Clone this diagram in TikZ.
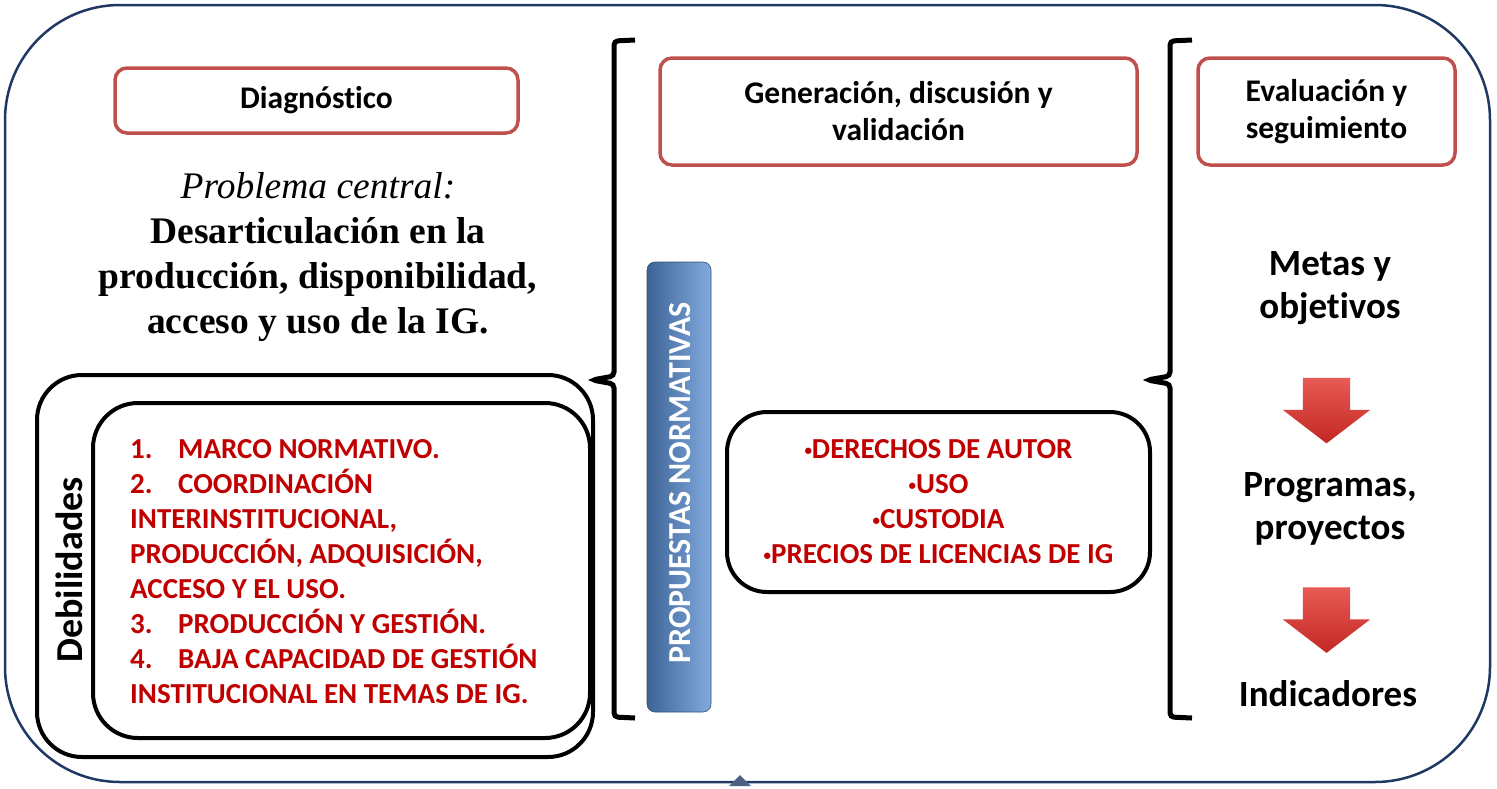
\documentclass[tikz,border=0pt]{standalone}
\usepackage{fontspec}
\setmainfont{Carlito}[Ligatures=NoCommon]
\newfontfamily\timesbf{Liberation Serif}
\usetikzlibrary{shapes.arrows}
\definecolor{framenavy}{RGB}{31,56,100}
\definecolor{headred}{RGB}{192,80,77}
\definecolor{listred}{RGB}{192,0,0}
\definecolor{bardark}{RGB}{62,100,150}
\definecolor{barmid}{RGB}{72,115,170}
\definecolor{barlight}{RGB}{130,170,222}
\definecolor{arrowlight}{RGB}{232,90,85}
\definecolor{arrowdark}{RGB}{195,40,35}
\newcommand{\smallbullet}{\raisebox{0.12em}{\fontsize{15}{15}\selectfont•}}
\tikzstyle{frame}=[draw=framenavy,line width=2.5,rounded corners=115]
\tikzstyle{head}=[draw=headred,line width=3.5,rounded corners=12,align=center,font=\bfseries\fontsize{31.5}{37}\selectfont]
\tikzstyle{blackbox}=[draw=black,line width=4,rounded corners=45]
\tikzstyle{brace}=[line width=5,rounded corners=4]
\tikzstyle{redlist}=[text=listred,align=left,inner sep=0,font=\bfseries\fontsize{29}{35}\selectfont]
\tikzstyle{stage}=[align=center,font=\bfseries\fontsize{37}{43}\selectfont]
\tikzstyle{downarrow}=[single arrow,rotate=-90,minimum height=65,inner sep=23.5,
  single arrow head extend=20,single arrow tip angle=105,
  top color=arrowlight,bottom color=arrowdark]
\tikzset{every picture/.style={x=1pt,y=-1pt}}
\begin{document}
\begin{tikzpicture}
      \useasboundingbox (0,0) rectangle (1497,788);
      \draw[frame] (5,5) rectangle (1490,782);
      \fill[framenavy!80] (729,786) -- (740,775) -- (751,786) -- cycle;
      % diagnostico
      \node[head,minimum width=403,minimum height=65] at (316.5,100.5) (diag) {Diagnóstico};
      \node[align=center,font=\timesbf\bfseries\fontsize{37.5}{45}\selectfont] at (318,257) (problema)
        {{\mdseries\itshape Problema central:}\\Desarticulación en la\\producción, disponibilidad,\\acceso y uso de la IG.};
      \node[blackbox,minimum width=556,minimum height=382] at (315,566) (deb) {};
      \node[blackbox,minimum width=497,minimum height=335] at (341.5,570.5) (debin) {};
      \node[rotate=90,font=\bfseries\fontsize{38}{38}\selectfont] at (69,570) (deblabel) {Debilidades};
      \node[redlist,anchor=west] at (130,571.5) (lista)
        {\makebox[48pt][l]{1.}MARCO NORMATIVO.\\
         \makebox[48pt][l]{2.}COORDINACIÓN\\
         INTERINSTITUCIONAL,\\
         PRODUCCIÓN, ADQUISICIÓN,\\
         ACCESO Y EL USO.\\
         \makebox[48pt][l]{3.}PRODUCCIÓN Y GESTIÓN.\\
         \makebox[48pt][l]{4.}BAJA CAPACIDAD DE GESTIÓN\\
         INSTITUCIONAL EN TEMAS DE IG.};
      % llaves
      \draw[brace] (635,40) -- (614,41) -- (614,376) -- (592,380) -- (614,384) -- (614,717) -- (635,718);
      \draw[brace] (1192,40) -- (1170,41) -- (1170,376) -- (1147,380) -- (1170,384) -- (1170,717) -- (1192,718);
      % propuestas
      \node[rounded corners=8,minimum width=64,minimum height=450,left color=bardark,middle color=barmid,
        right color=barlight,draw=bardark!80!black,line width=0.6] at (679,487) (bar) {};
      \node[rotate=90,text=white,font=\bfseries\fontsize{32}{32}\selectfont] at (680,483) (barlabel) {PROPUESTAS NORMATIVAS};
      \node[head,minimum width=477,minimum height=107] at (898.5,111.5) (gen) {Generación, discusión y\\validación};
      \node[blackbox,rounded corners=40,minimum width=423,minimum height=180,text=listred,align=center,
        font=\bfseries\fontsize{29}{35}\selectfont] at (938.5,502) (derechos)
        {\smallbullet DERECHOS DE AUTOR\\\smallbullet USO\\\smallbullet CUSTODIA\\\smallbullet PRECIOS DE LICENCIAS DE IG};
      % evaluacion
      \node[head,minimum width=257,minimum height=107] at (1326.5,111.5) (eval) {Evaluación y\\seguimiento};
      \node[stage] at (1330,288) (metas) {Metas y\\objetivos};
      \node[downarrow] at (1326.5,401.5) (arr1) {};
      \node[stage] at (1330,509) (prog) {Programas,\\proyectos};
      \node[downarrow] at (1326.5,611) (arr2) {};
      \node[stage] at (1328,694) (ind) {Indicadores};
    \end{tikzpicture}
\end{document}
